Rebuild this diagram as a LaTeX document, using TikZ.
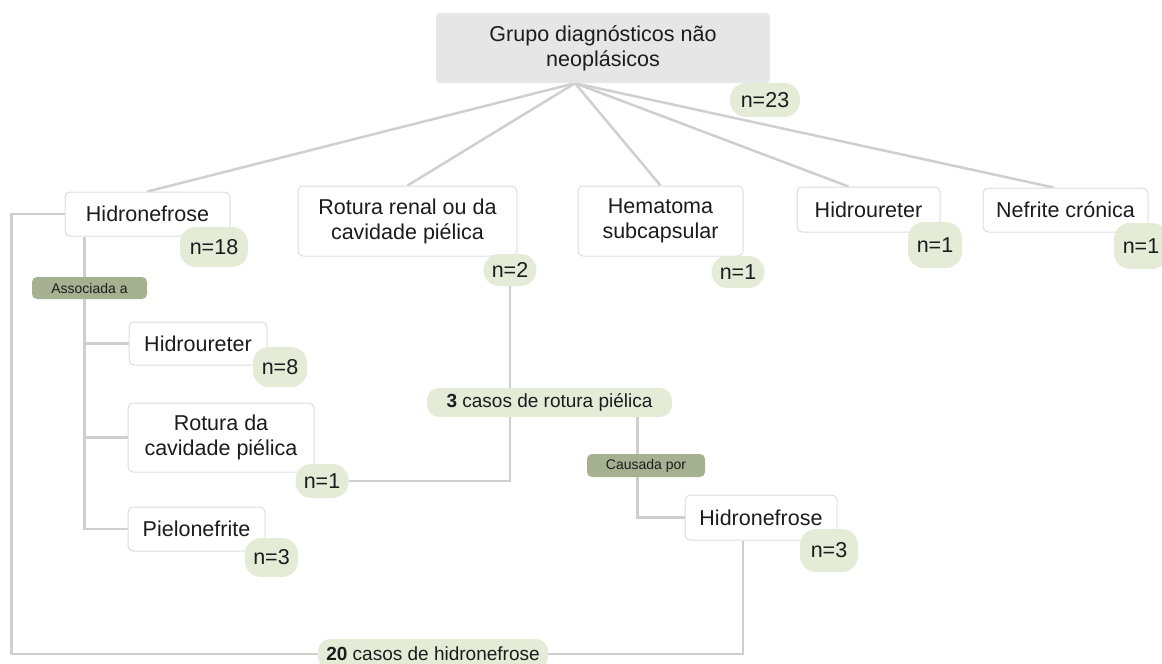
\documentclass[tikz,border=0pt]{standalone}
\usepackage{fontspec}
\setmainfont{Liberation Sans}
\usetikzlibrary{backgrounds}
\definecolor{boxline}{HTML}{DDDDDD}
\definecolor{linkgray}{HTML}{CFCFCF}
\definecolor{rootfill}{HTML}{E6E6E6}
\definecolor{countfill}{HTML}{E4ECD7}
\definecolor{tagfill}{HTML}{A6B191}
\definecolor{txt}{HTML}{1C1C1C}
\begin{document}
\begin{tikzpicture}[x=1pt, y=-1pt,
  every node/.style={font=\fontsize{21.5}{25}\selectfont, text=txt, inner sep=0pt, align=center},
  diag/.style={draw=boxline, line width=1pt, fill=white, rounded corners=5pt},
  rootbox/.style={fill=rootfill, rounded corners=4pt},
  count/.style={fill=countfill, rounded corners=16pt},
  tag/.style={fill=tagfill, rounded corners=5pt, font=\fontsize{14}{16}\selectfont},
  cases/.style={fill=countfill, rounded corners=12pt, font=\fontsize{19}{22}\selectfont},
  link/.style={draw=linkgray, line width=2.5pt}]
  \useasboundingbox (0,0) rectangle (1162,664);
  % top of the tree
  \node[rootbox, minimum width=334pt, minimum height=70pt] (root) at (603,48) {Grupo diagnósticos não\\neoplásicos};
  \node[count, minimum width=70pt, minimum height=34pt] (n23) at (765,100) {n=23};
  % first row
  \node[diag, minimum width=165pt, minimum height=44pt] (hn) at (147.5,214) {Hidronefrose};
  \node[count, minimum width=68pt, minimum height=40pt] (n18) at (214,247) {n=18};
  \node[diag, minimum width=219pt, minimum height=70pt] (rr) at (407.5,221) {Rotura renal ou da\\cavidade piélica};
  \node[count, minimum width=53pt, minimum height=32pt] (n2) at (510,270) {n=2};
  \node[diag, minimum width=165pt, minimum height=70pt] (hm) at (660.5,221) {Hematoma\\subcapsular};
  \node[count, minimum width=53pt, minimum height=32pt] (n1hm) at (738,272) {n=1};
  \node[diag, minimum width=143pt, minimum height=45pt] (hu) at (868.5,209.5) {Hidroureter};
  \node[count, minimum width=54pt, minimum height=46pt] (n1hu) at (935,245) {n=1};
  \node[diag, minimum width=165pt, minimum height=44pt] (nc) at (1065.5,210) {Nefrite crónica};
  \node[count, minimum width=54pt, minimum height=46pt] (n1nc) at (1141,246) {n=1};
  % associated with hydronephrosis
  \node[tag, minimum width=115pt, minimum height=22pt] (assoc) at (89.5,288) {Associada a};
  \node[diag, minimum width=138pt, minimum height=43pt] (hu2) at (198,343.5) {Hidroureter};
  \node[count, minimum width=54pt, minimum height=40pt] (n8) at (280,367) {n=8};
  \node[diag, minimum width=186pt, minimum height=69pt] (rcp) at (221,437.5) {Rotura da\\cavidade piélica};
  \node[count, minimum width=53pt, minimum height=34pt] (n1rcp) at (322,481) {n=1};
  \node[diag, minimum width=137pt, minimum height=44pt] (pn) at (196.5,529) {Pielonefrite};
  \node[count, minimum width=53pt, minimum height=39pt] (n3pn) at (271.5,557.5) {n=3};
  % totals
  \node[cases, minimum width=245pt, minimum height=29pt] (rot3) at (549.5,402.5) {\textbf{3} casos de rotura piélica};
  \node[tag, minimum width=118pt, minimum height=23pt] (caus) at (646,465.5) {Causada por};
  \node[diag, minimum width=152pt, minimum height=45pt] (hn3) at (761,517.5) {Hidronefrose};
  \node[count, minimum width=58pt, minimum height=43pt] (n3hn) at (829,550.5) {n=3};
  \node[cases, minimum width=230pt, minimum height=30pt] (hid20) at (433,654) {\textbf{20} casos de hidronefrose};
  % connectors
  \begin{scope}[on background layer]
    \coordinate (hub) at ([xshift=-28pt]root.south);
    \foreach \kid/\dx in {hn/0, rr/0, hm/0, hu/-20, nc/-12}
      \draw[link] (hub) -- ([xshift=\dx pt]\kid.north);
    \draw[link] ([xshift=20pt]hn.south west) coordinate (trunk) |- (pn.west);
    \draw[link] (trunk) |- (hu2.west);
    \draw[link] (trunk) |- (rcp.west);
    \draw[link] (hn.west) -- ++(-53,0) |- (hid20.center) -| ([xshift=-18pt]hn3.south);
    \draw[link] (n2.south) -- (n2.south |- rot3.north);
    \draw[link] (n2.south |- rot3.south) |- (n1rcp.east);
    \draw[link] ([xshift=88pt]rot3.south) |- (hn3.west);
  \end{scope}
\end{tikzpicture}
\end{document}
